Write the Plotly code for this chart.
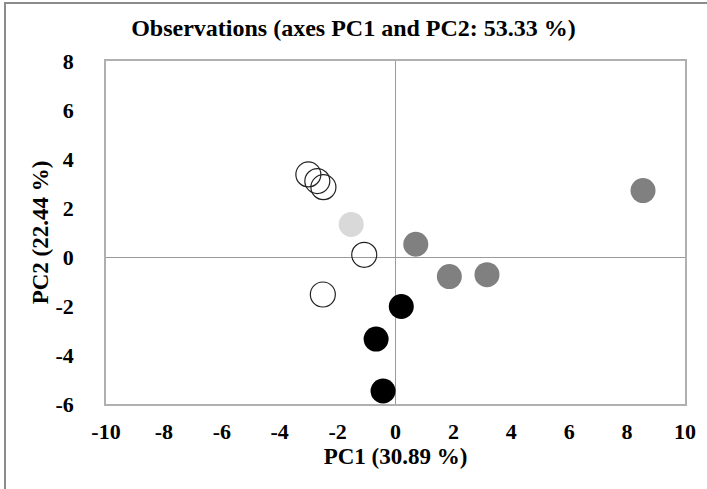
import plotly.graph_objects as go

# Observations grouped by marker style
hollow_x = [-3.01, -2.70, -2.49, -1.08, -2.51]
hollow_y = [3.37, 3.10, 2.85, 0.09, -1.53]
light_x = [-1.53]
light_y = [1.33]
dark_x = [0.70, 1.86, 3.16, 8.55]
dark_y = [0.52, -0.80, -0.72, 2.71]
black_x = [0.20, -0.67, -0.43]
black_y = [-2.02, -3.35, -5.47]

x_ticks = [-10, -8, -6, -4, -2, 0, 2, 4, 6, 8, 10]
y_ticks = [-6, -4, -2, 0, 2, 4, 6, 8]

FONT = "Liberation Serif"
MS = 25
FS = 22
FT = 23

fig = go.Figure()
fig.add_trace(go.Scatter(x=hollow_x, y=hollow_y, mode="markers",
                         marker=dict(size=MS, color="rgba(255,255,255,0)",
                                     line=dict(color="#222222", width=1.2))))
fig.add_trace(go.Scatter(x=light_x, y=light_y, mode="markers",
                         marker=dict(size=MS, color="#d9d9d9", line=dict(width=0))))
fig.add_trace(go.Scatter(x=dark_x, y=dark_y, mode="markers",
                         marker=dict(size=MS, color="#808080", line=dict(width=0))))
fig.add_trace(go.Scatter(x=black_x, y=black_y, mode="markers",
                         marker=dict(size=MS, color="#000000", line=dict(width=0))))

fig.update_layout(
    width=707, height=489,
    margin=dict(l=106, r=22, t=61, b=85),
    paper_bgcolor="white", plot_bgcolor="white",
    showlegend=False,
    font=dict(family=FONT, color="black", size=FS),
    title=dict(text="<b>Observations (axes PC1 and PC2: 53.33 %)</b>",
               x=0.5, xanchor="center", y=1 - 28 / 489, yanchor="middle",
               font=dict(family=FONT, size=24, color="black")),
    xaxis=dict(range=[-10, 10], tickvals=x_ticks,
               ticktext=[f"<b>{v}</b>" for v in x_ticks],
               showgrid=False, zeroline=True, zerolinecolor="#9a9a9a", zerolinewidth=1,
               showline=True, mirror=True, linecolor="#b0b0b0", linewidth=1.5,
               ticks="", ticklabelstandoff=7,
               tickfont=dict(family=FONT, size=FS, color="black"),
               title=dict(text="<b>PC1 (30.89 %)</b>", standoff=5,
                          font=dict(family=FONT, size=FT, color="black"))),
    yaxis=dict(range=[-6, 8], tickvals=y_ticks,
               ticktext=[f"<b>{v}</b>" for v in y_ticks],
               showgrid=False, zeroline=True, zerolinecolor="#9a9a9a", zerolinewidth=1,
               showline=True, mirror=True, linecolor="#b0b0b0", linewidth=1.5,
               ticks="", ticklabelstandoff=26,
               tickfont=dict(family=FONT, size=FS, color="black"),
               title=dict(text="<b>PC2 (22.44 %)</b>", standoff=0,
                          font=dict(family=FONT, size=FT, color="black"))),
)

# outer chart-area border (top and left visible in the cropped reference)
fig.add_shape(type="rect", xref="paper", yref="paper",
              x0=-101 / 579, x1=1.2, y0=-1.0, y1=1 + 58 / 343,
              line=dict(color="#8c8c8c", width=2), layer="below")

fig.write_html("out.html")
